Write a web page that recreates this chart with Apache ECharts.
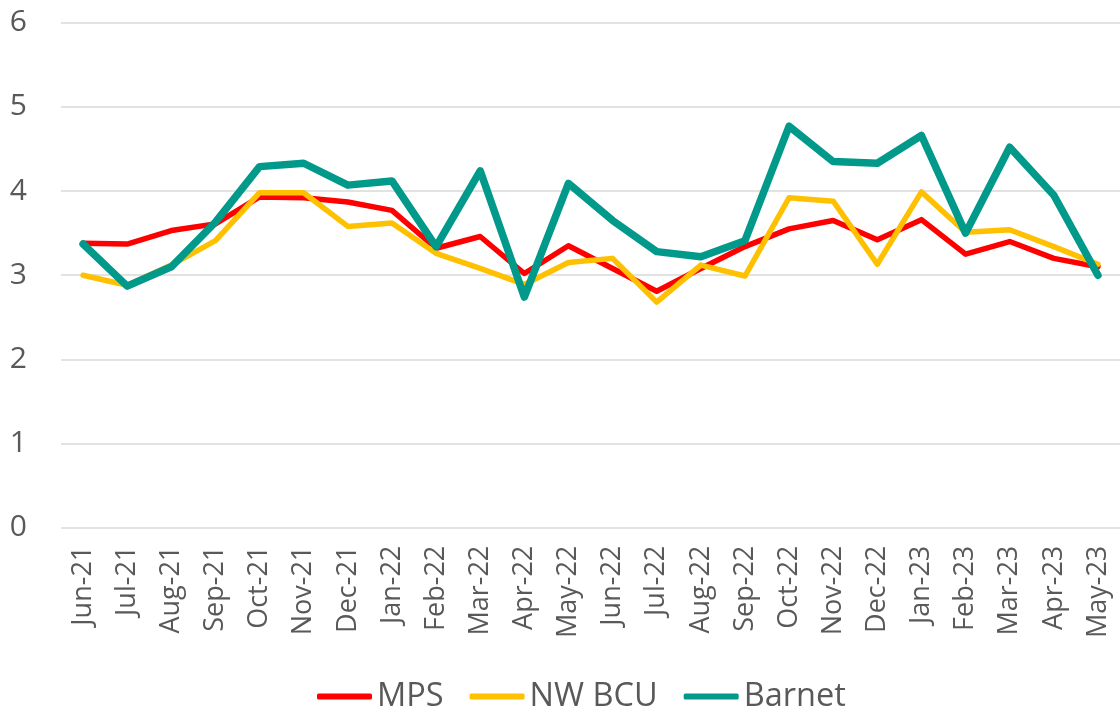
<!DOCTYPE html>
<html>
<head>
<meta charset="utf-8">
<script src="https://cdn.jsdelivr.net/npm/echarts@6/dist/echarts.min.js"></script>
<style>
html,body{margin:0;padding:0;background:#fff;}
#chart{width:1120px;height:707px;}
</style>
</head>
<body>
<div id="chart"></div>
<script>
const categories = ["Jun-21","Jul-21","Aug-21","Sep-21","Oct-21","Nov-21","Dec-21","Jan-22","Feb-22","Mar-22","Apr-22","May-22","Jun-22","Jul-22","Aug-22","Sep-22","Oct-22","Nov-22","Dec-22","Jan-23","Feb-23","Mar-23","Apr-23","May-23"];
const mps    = [3.38,3.37,3.53,3.61,3.93,3.92,3.87,3.77,3.32,3.46,3.02,3.35,3.08,2.81,3.08,3.34,3.55,3.65,3.42,3.66,3.25,3.40,3.20,3.10];
const nwBcu  = [3.00,2.88,3.12,3.41,3.98,3.98,3.58,3.62,3.26,3.08,2.89,3.15,3.20,2.68,3.12,2.99,3.92,3.88,3.13,3.99,3.51,3.54,3.34,3.13];
const barnet = [3.37,2.87,3.10,3.63,4.29,4.33,4.07,4.12,3.34,4.24,2.74,4.09,3.65,3.28,3.22,3.41,4.77,4.35,4.33,4.66,3.50,4.52,3.95,3.00];
const yTicks = [0,1,2,3,4,5,6];
const seriesNames = ["MPS","NW BCU","Barnet"];

const FONT = '"Open Sans", "Liberation Sans", sans-serif';
const chart = echarts.init(document.getElementById('chart'), null, {renderer:'canvas'});
chart.setOption({
  animation:false,
  backgroundColor:'#ffffff',
  grid:{left:61, top:22.7, width:1067, height:505, containLabel:false},
  legend:{
    data:seriesNames.map(n=>({name:n, icon:'roundRect'})),
    top:675, left:312,
    itemWidth:55, itemHeight:6, itemGap:26,
    textStyle:{fontFamily:FONT, fontSize:32.5, color:'#595959', padding:[0,0,0,0]}
  },
  xAxis:{
    type:'category', data:categories, boundaryGap:true,
    axisLine:{show:false}, axisTick:{show:false},
    axisLabel:{rotate:90, margin:18, fontFamily:FONT, fontSize:27, color:'#595959', interval:0}
  },
  yAxis:{
    type:'value', min:yTicks[0], max:yTicks[yTicks.length-1], interval:1,
    axisLine:{show:false}, axisTick:{show:false},
    axisLabel:{margin:34, fontFamily:FONT, fontSize:30, color:'#595959'},
    splitLine:{lineStyle:{color:'#D9D9D9', width:1.5}}
  },
  series:[
    {name:seriesNames[0], type:'line', data:mps, showSymbol:false, symbol:'none',
     lineStyle:{color:'#FF0000', width:5.5, cap:'round', join:'round'}, itemStyle:{color:'#FF0000'}, z:3},
    {name:seriesNames[1], type:'line', data:nwBcu, showSymbol:false, symbol:'none',
     lineStyle:{color:'#FFC000', width:5.5, cap:'round', join:'round'}, itemStyle:{color:'#FFC000'}, z:4},
    {name:seriesNames[2], type:'line', data:barnet, showSymbol:false, symbol:'none',
     lineStyle:{color:'#00998A', width:7.5, cap:'round', join:'round'}, itemStyle:{color:'#00998A'}, z:5}
  ]
});
</script>
</body>
</html>
